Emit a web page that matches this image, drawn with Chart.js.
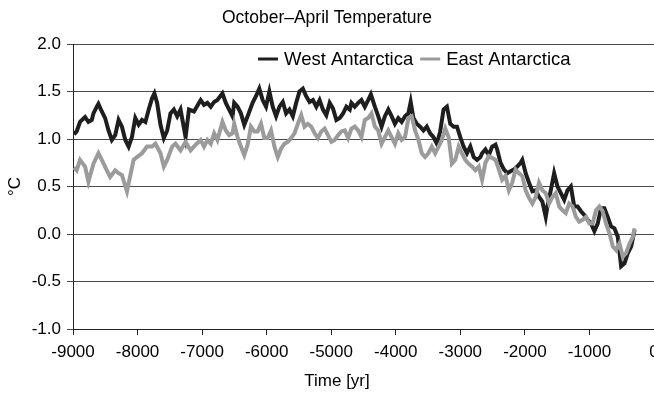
<!DOCTYPE html>
<html>
<head>
<meta charset="utf-8">
<script src="https://cdn.jsdelivr.net/npm/chart.js@4/dist/chart.umd.min.js"></script>
<style>
  body { margin: 0; background: #fff; }
  #wrap { width: 654px; height: 396px; }
</style>
</head>
<body>
<div id="wrap"><canvas id="chart1" width="654" height="396"></canvas></div>
<script>
// Reconstructed Oct-Apr temperature series (years before present, degrees C)
var westYears = [-8985, -8943, -8891, -8813, -8761, -8709, -8683, -8631, -8606, -8554, -8502, -8450, -8398, -8346, -8294, -8242, -8190, -8138, -8087, -8035,
    -7983, -7931, -7879, -7827, -7775, -7739, -7697, -7645, -7593, -7541, -7490, -7438, -7386, -7334, -7256, -7204, -7126, -7049,
    -7022, -6970, -6918, -6866, -6814, -6763, -6685, -6633, -6581, -6529, -6503, -6451, -6399, -6347, -6295, -6218, -6166, -6114, -6062, -6010,
    -5958, -5906, -5854, -5802, -5750, -5699, -5647, -5595, -5543, -5491, -5439, -5387, -5335, -5283, -5231, -5180, -5128, -5076, -5024, -4972,
    -4920, -4868, -4816, -4765, -4713, -4687, -4635, -4583, -4532, -4480, -4428, -4386, -4324, -4272, -4220, -4168, -4116, -4065, -4013, -3961,
    -3909, -3857, -3805, -3769, -3727, -3675, -3623, -3571, -3520, -3468, -3416, -3364, -3312, -3260, -3208, -3156, -3104, -3052, -3001, -2949,
    -2897, -2845, -2793, -2741, -2689, -2663, -2611, -2559, -2507, -2455, -2429, -2378, -2326, -2274, -2222, -2170, -2118, -2066, -2040, -1988,
    -1936, -1884, -1833, -1781, -1729, -1677, -1651, -1599, -1547, -1495, -1443, -1391, -1340, -1288, -1236, -1184, -1132, -1080, -1028, -976,
    -924, -872, -821, -769, -717, -665, -613, -561, -509, -457, -405, -353, -301];
var westTemp = [1.05, 1.08, 1.18, 1.23, 1.18, 1.20, 1.27, 1.34, 1.37, 1.29, 1.22, 1.09, 0.99, 1.04, 1.20, 1.13, 0.99, 0.92, 1.02, 1.22,
    1.15, 1.20, 1.18, 1.31, 1.43, 1.48, 1.38, 1.15, 1.01, 1.09, 1.27, 1.31, 1.24, 1.31, 1.02, 1.31, 1.29, 1.38,
    1.41, 1.36, 1.38, 1.34, 1.39, 1.41, 1.48, 1.38, 1.31, 1.24, 1.38, 1.34, 1.27, 1.15, 1.24, 1.38, 1.45, 1.53, 1.41, 1.34,
    1.50, 1.34, 1.24, 1.34, 1.39, 1.27, 1.31, 1.24, 1.38, 1.50, 1.53, 1.45, 1.39, 1.41, 1.34, 1.41, 1.31, 1.25, 1.38, 1.32,
    1.20, 1.22, 1.27, 1.34, 1.31, 1.38, 1.34, 1.38, 1.41, 1.34, 1.41, 1.47, 1.34, 1.24, 1.13, 1.24, 1.31, 1.24, 1.16, 1.22,
    1.18, 1.24, 1.27, 1.39, 1.22, 1.16, 1.13, 1.09, 1.13, 1.06, 1.02, 0.95, 1.08, 1.31, 1.34, 1.16, 1.13, 1.13, 1.02, 0.92,
    0.85, 0.92, 0.81, 0.78, 0.81, 0.85, 0.89, 0.83, 0.92, 0.94, 0.89, 0.75, 0.68, 0.64, 0.66, 0.68, 0.71, 0.75, 0.78, 0.64,
    0.54, 0.45, 0.46, 0.39, 0.34, 0.18, 0.29, 0.46, 0.64, 0.50, 0.43, 0.36, 0.46, 0.50, 0.29, 0.29, 0.24, 0.20, 0.15, 0.11,
    0.03, 0.11, 0.27, 0.27, 0.18, 0.08, 0.06, -0.03, -0.34, -0.31, -0.20, -0.13, 0.04];

var eastYears = [-8985, -8943, -8891, -8813, -8761, -8683, -8606, -8554, -8476, -8424, -8346, -8294, -8242, -8164, -8061, -8009, -7931, -7853, -7775, -7723,
    -7645, -7593, -7541, -7464, -7412, -7334, -7256, -7178, -7100, -7023, -6970, -6918, -6866, -6814, -6763, -6685, -6633, -6581, -6529, -6503,
    -6451, -6399, -6347, -6295, -6244, -6192, -6140, -6088, -6036, -5984, -5932, -5880, -5828, -5776, -5725, -5673, -5621, -5569, -5517, -5465,
    -5413, -5361, -5309, -5257, -5206, -5154, -5102, -5050, -4998, -4946, -4894, -4842, -4790, -4738, -4687, -4635, -4583, -4532, -4480, -4428,
    -4376, -4324, -4272, -4220, -4168, -4116, -4065, -4013, -3961, -3909, -3857, -3805, -3753, -3701, -3649, -3597, -3545, -3494, -3442, -3390,
    -3338, -3286, -3234, -3182, -3130, -3078, -3026, -2975, -2923, -2871, -2819, -2767, -2715, -2663, -2611, -2559, -2507, -2455, -2404, -2352,
    -2300, -2248, -2196, -2144, -2092, -2040, -1988, -1936, -1884, -1833, -1781, -1729, -1677, -1625, -1573, -1521, -1469, -1417, -1366, -1314,
    -1262, -1210, -1158, -1106, -1054, -1002, -950, -898, -846, -795, -743, -691, -639, -587, -535, -483, -431, -379, -327, -301];
var eastTemp = [0.70, 0.67, 0.78, 0.71, 0.55, 0.74, 0.85, 0.78, 0.67, 0.60, 0.67, 0.64, 0.62, 0.45, 0.78, 0.81, 0.85, 0.92, 0.92, 0.95,
    0.85, 0.71, 0.78, 0.92, 0.95, 0.88, 0.97, 0.88, 0.94, 0.99, 0.92, 0.99, 0.95, 1.06, 0.99, 1.18, 1.09, 1.04, 1.06, 1.16,
    1.02, 0.92, 0.83, 0.94, 1.13, 1.08, 1.08, 1.16, 1.01, 1.01, 1.09, 0.92, 0.81, 0.90, 0.95, 0.97, 1.01, 1.06, 1.16, 1.25,
    1.13, 1.16, 1.13, 1.06, 1.01, 1.08, 1.11, 1.04, 0.97, 0.99, 1.04, 1.08, 1.09, 1.01, 1.11, 1.13, 1.09, 1.02, 1.20, 1.22,
    1.27, 1.13, 1.09, 0.95, 1.02, 1.09, 1.02, 0.95, 1.06, 0.99, 1.02, 1.22, 1.24, 1.09, 0.99, 0.85, 0.81, 0.85, 0.92, 0.85,
    0.92, 0.99, 1.11, 1.02, 0.74, 0.78, 0.92, 0.85, 0.78, 0.74, 0.71, 0.67, 0.71, 0.57, 0.75, 0.82, 0.80, 0.78, 0.68, 0.57,
    0.61, 0.46, 0.54, 0.68, 0.64, 0.61, 0.46, 0.38, 0.32, 0.39, 0.54, 0.46, 0.43, 0.32, 0.39, 0.43, 0.29, 0.25, 0.22, 0.32,
    0.29, 0.18, 0.13, 0.15, 0.18, 0.11, 0.11, 0.25, 0.29, 0.24, 0.11, 0.01, -0.13, -0.17, -0.10, -0.24, -0.20, -0.10, -0.03, 0.06];

var seriesNames = ['West Antarctica', 'East Antarctica'];
var seriesColors = ['#1e1e1e', '#9b9b9b'];
var xAxisTitle = 'Time [yr]';

var FONT = 'Liberation Sans, Arial, Helvetica, sans-serif';
var FONT_SIZE = 17;
var LEGEND_SIZE = 18.5;

function toPoints(years, temps) {
    var pts = [];
    for (var i = 0; i < years.length; i++) {
        pts.push({ x: years[i], y: temps[i] });
    }
    return pts;
}

// legend inside the plot near the top, x-axis title, and the thin right border of the plot area
var plotExtras = {
    id: 'plotExtras',
    afterDraw: function (chart) {
        var ctx = chart.ctx;
        var area = chart.chartArea;
        ctx.save();
        ctx.strokeStyle = '#a0a0a0';
        ctx.lineWidth = 1;
        ctx.beginPath();
        ctx.moveTo(area.right + 0.5, area.top);
        ctx.lineTo(area.right + 0.5, area.bottom);
        ctx.stroke();

        ctx.fillStyle = '#000';
        ctx.textBaseline = 'middle';
        ctx.textAlign = 'center';
        ctx.font = FONT_SIZE + 'px ' + FONT;
        ctx.fillText(xAxisTitle, area.left + 264, chart.height - 15);

        ctx.textAlign = 'left';
        ctx.font = LEGEND_SIZE + 'px ' + FONT;
        var x = area.left + 185;
        var y = area.top + 15;
        for (var i = 0; i < seriesNames.length; i++) {
            ctx.strokeStyle = seriesColors[i];
            ctx.lineWidth = 3;
            ctx.beginPath();
            ctx.moveTo(x, y);
            ctx.lineTo(x + 20, y);
            ctx.stroke();
            ctx.fillText(seriesNames[i], x + 26, y + 1);
            x += 26 + ctx.measureText(seriesNames[i]).width + 7;
        }
        ctx.restore();
    }
};

const CHART1 = document.getElementById('chart1');
let tempChart = new Chart(CHART1, {
    type: 'line',
    data: {
        datasets: [
            {
                label: seriesNames[0],
                borderColor: seriesColors[0],
                backgroundColor: seriesColors[0],
                borderWidth: 4,
                pointRadius: 0,
                tension: 0,
                order: 1,
                data: toPoints(westYears, westTemp)
            },
            {
                label: seriesNames[1],
                borderColor: seriesColors[1],
                backgroundColor: seriesColors[1],
                borderWidth: 4,
                pointRadius: 0,
                tension: 0,
                order: 0,
                data: toPoints(eastYears, eastTemp)
            }
        ]
    },
    options: {
        responsive: false,
        animation: false,
        layout: { padding: 0 },
        plugins: {
            legend: { display: false },
            tooltip: { enabled: false },
            title: {
                display: true,
                text: 'October\u2013April Temperature',
                color: '#000',
                font: { family: FONT, size: 17.5, weight: 'normal' },
                padding: { top: 7.5, bottom: 15.5 }
            }
        },
        scales: {
            x: {
                type: 'linear',
                min: -9000,
                max: 0,
                afterFit: function (s) { s.height = 67; s.paddingRight = 0; s.paddingLeft = 0; },
                ticks: {
                    stepSize: 1000,
                    color: '#000',
                    padding: 7,
                    maxRotation: 0,
                    font: { family: FONT, size: FONT_SIZE },
                    callback: function (v) { return String(v); }
                },
                grid: { drawOnChartArea: false, drawTicks: true, tickLength: 6, color: '#222' },
                border: { display: true, color: '#222' },
                title: { display: false }
            },
            y: {
                min: -1,
                max: 2,
                afterFit: function (s) { s.width = 73; },
                ticks: {
                    stepSize: 0.5,
                    color: '#000',
                    padding: 6,
                    font: { family: FONT, size: FONT_SIZE },
                    callback: function (v) { return v.toFixed(1); }
                },
                grid: { color: '#4a4a4a', tickLength: 6, lineWidth: 1 },
                border: { display: true, color: '#222' },
                title: {
                    display: true,
                    text: '\u00B0C',
                    color: '#000',
                    font: { family: FONT, size: FONT_SIZE },
                    padding: { top: 5, bottom: 0 }
                }
            }
        }
    },
    plugins: [plotExtras]
});
</script>
</body>
</html>
